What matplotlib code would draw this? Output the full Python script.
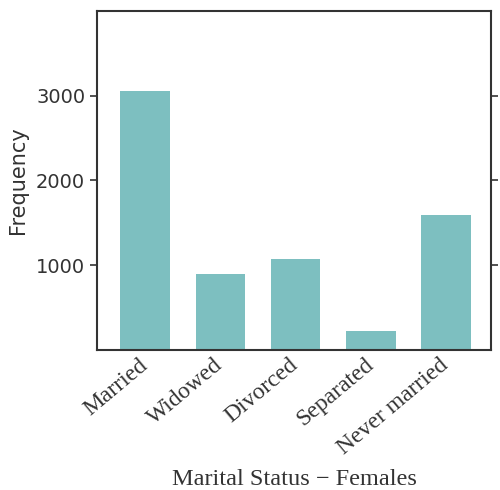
import matplotlib
matplotlib.use('Agg')
import matplotlib.pyplot as plt

categories = ['Married', 'Widowed', 'Divorced', 'Separated', 'Never married']
freq = [3060, 900, 1070, 220, 1590]
bar_color = '#7dbfc0'

fig = plt.figure(figsize=(5, 4.9), dpi=100)
ax = fig.add_axes([0.194, 0.2857, 0.788, 0.692])
ax.bar(range(len(categories)), freq, width=0.66, color=bar_color)
ax.set_xlim(-0.64, 4.6)
ax.set_ylim(0, 4000)
ax.set_yticks([1000, 2000, 3000])
ax.set_yticklabels(['1000', '2000', '3000'], fontsize=14, family='DejaVu Sans', color='#333333')
ax.set_xticks(range(len(categories)))
ax.set_xticklabels(categories, rotation=40, ha='right', va='center', rotation_mode='anchor',
                   fontsize=17, family='Liberation Serif', color='#333333')
ax.tick_params(axis='x', length=0, pad=9)
ax.tick_params(axis='y', direction='out', length=5, width=1.2, right=True, labelright=False, color='#333333')
for s in ax.spines.values():
    s.set_linewidth(1.5)
    s.set_color('#333333')
ax.set_ylabel('Frequency', fontsize=15, family='DejaVu Sans', color='#333333')
ax.yaxis.set_label_coords(-0.175, 0.5)
ax.set_xlabel('Marital Status \u2212 Females', fontsize=17.5, family='Liberation Serif', color='#333333')
ax.xaxis.set_label_coords(0.5, -0.35)
fig.savefig('out.png', dpi=100)
